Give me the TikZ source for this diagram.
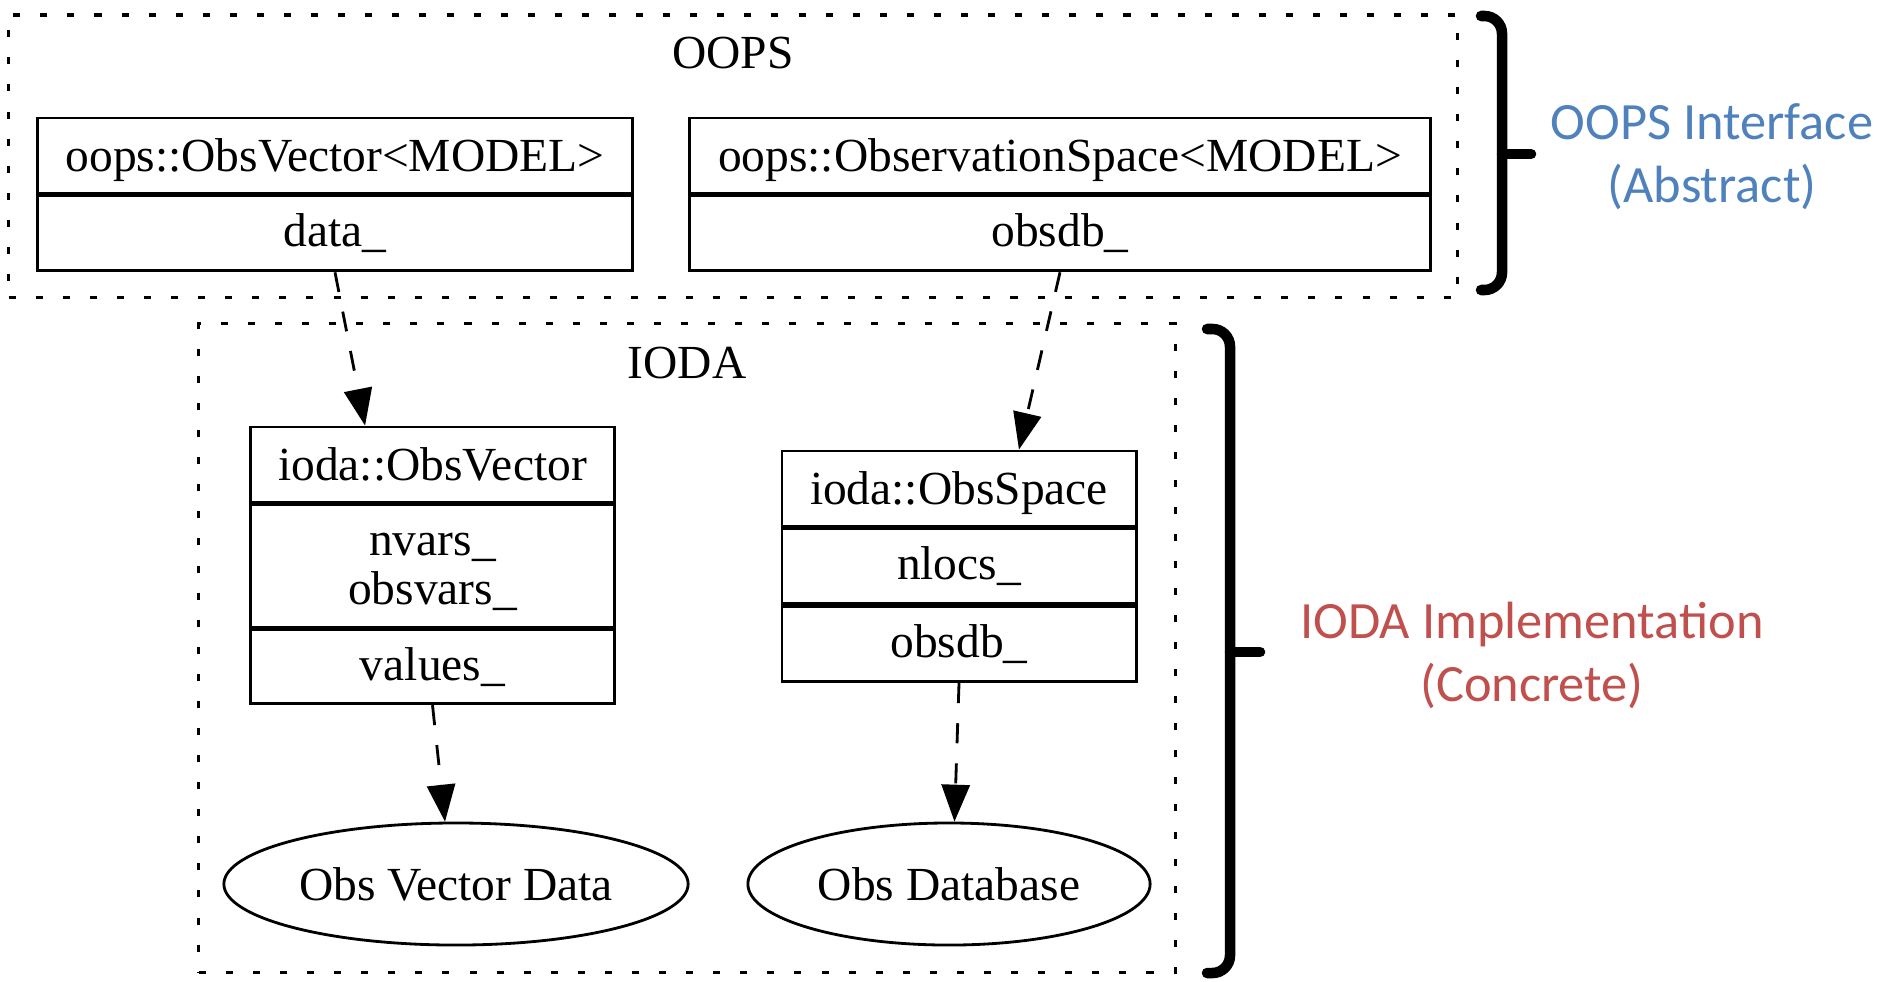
\documentclass[tikz,border=0pt]{standalone}
\usepackage{fontspec}
\setmainfont{Liberation Serif}
\newfontfamily\notefont{Carlito}
\usepackage{xcolor}
\usetikzlibrary{positioning, shapes.geometric, arrows.meta}

\definecolor{ifaceblue}{RGB}{79,129,189}
\definecolor{implred}{RGB}{192,80,77}

\tikzset{
    field/.style={draw, line width=0.8pt, inner sep=0pt, minimum height=0.75cm, align=center, font=\fontsize{13.5}{14}\selectfont},
    head/.style={field, text depth=0pt},
    store/.style={draw, ellipse, line width=0.8pt, inner sep=0pt, minimum height=1.22cm, font=\fontsize{13.5}{16}\selectfont},
    cluster/.style={draw, line width=0.9pt, dash pattern=on 2pt off 5.7pt, inner sep=0pt},
    title/.style={anchor=base, font=\fontsize{13.5}{16}\selectfont},
    dep/.style={line width=0.8pt, dash pattern=on 5.7pt off 5.7pt, -{Triangle[length=10.5pt, width=8pt]}},
    brace/.style={line width=3pt, line cap=round, rounded corners=5pt},
    note/.style={align=center, font=\notefont\fontsize{14.9}{17.9}\selectfont},
}

\begin{document}
\begin{tikzpicture}[x=0.01cm, y=-0.01cm]
    \useasboundingbox (0,0) rectangle (1883,981);

    \node[cluster, minimum width=14.48cm, minimum height=2.82cm] (oops) at (733,156) {};
    \node[title] (oopstitle) at (733,68) {OOPS};
    \node[cluster, minimum width=9.76cm, minimum height=6.48cm] (ioda) at (687,648) {};
    \node[title] (iodatitle) at (687,378) {IODA};

    % oops side
    \node[head, minimum width=5.94cm] (ovec) at (335,155.5) {oops::ObsVector<MODEL>};
    \node[field, minimum width=5.94cm] (ovecdata) [below=0pt of ovec] {data\_};
    \node[head, minimum width=7.4cm] (ospace) at (1060,155.5) {oops::ObservationSpace<MODEL>};
    \node[field, minimum width=7.4cm] (ospacedb) [below=0pt of ospace] {obsdb\_};

    % ioda side
    \node[head, minimum width=3.63cm] (ivec) at (432.5,464.5) {ioda::ObsVector};
    \node[field, minimum width=3.63cm, minimum height=1.22cm, text height=0.84cm] (ivecvars) [below=0pt of ivec] {nvars\_\\obsvars\_};
    \node[field, minimum width=3.63cm, minimum height=0.74cm] (ivecvals) [below=0pt of ivecvars] {values\_};
    \node[head, minimum width=3.54cm] (ispace) at (959,488.5) {ioda::ObsSpace};
    \node[field, minimum width=3.54cm] (ispacelocs) [below=0pt of ispace] {nlocs\_};
    \node[field, minimum width=3.54cm] (ispacedb) [below=0pt of ispacelocs] {obsdb\_};

    \node[store, minimum width=4.64cm] (vecdata) at (456,884) {Obs Vector Data};
    \node[store, minimum width=4.02cm] (database) at (949,884) {Obs Database};

    \path[dep]
    (ovecdata.south) edge (ivec.150)
    (ospacedb.south) edge (ispace.33)
    (ivecvals.south) edge (vecdata.100)
    (ispacedb.south) edge (database.85);

    % braces
    \draw[brace] (1481,16) -| (1502,290) -- (1481,290);
    \draw[brace] (1502,154) -- (1531,154);
    \draw[brace] (1207,329) -| (1230,973) -- (1207,973);
    \draw[brace] (1230,652) -- (1260,652);

    \node[note, text=ifaceblue] (ifacenote) at (1712,157) {OOPS Interface\\(Abstract)};
    \node[note, text=implred] (implnote) at (1532,655) {IODA Implementation\\(Concrete)};

\end{tikzpicture}
\end{document}
